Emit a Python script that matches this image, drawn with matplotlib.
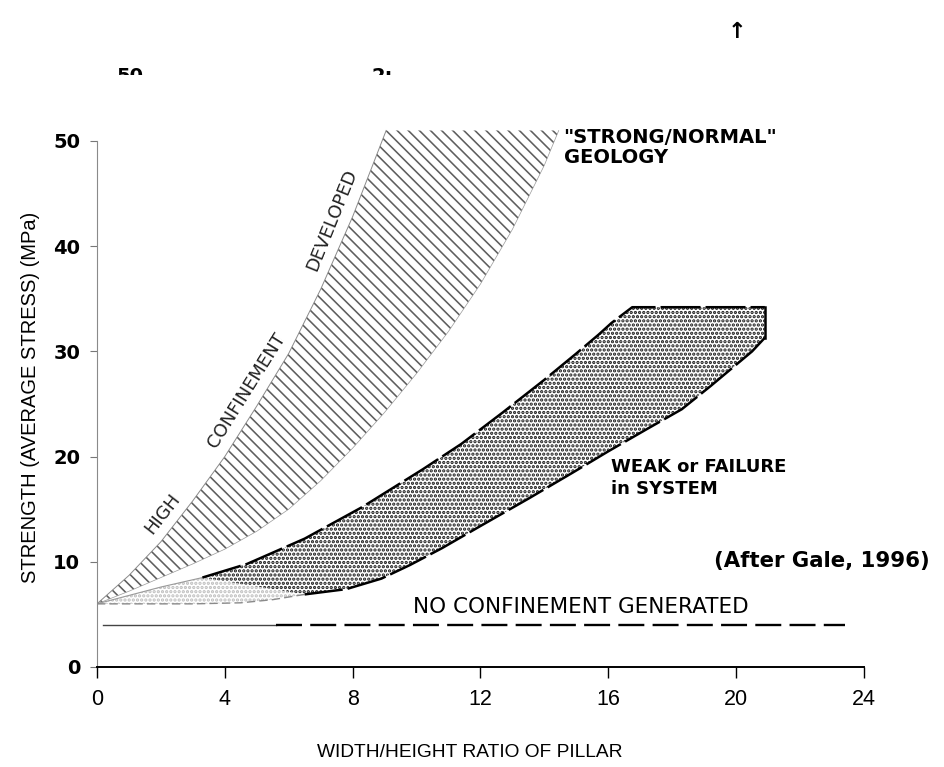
import matplotlib
matplotlib.use('Agg')
import matplotlib.pyplot as plt
from matplotlib.transforms import Bbox, TransformedBbox

# ---------------- data ----------------
x_ticks = [0, 4, 8, 12, 16, 20, 24]
y_ticks = [0, 10, 20, 30, 40, 50]

# "strong / normal" geology band (hatched)
strong_upper_x = [0, 1, 2, 3, 4, 5, 6, 7, 8, 9.05]
strong_upper_y = [6, 8.7, 11.9, 15.8, 20.0, 24.8, 29.8, 35.9, 42.8, 51.0]
strong_lower_x = [0, 1, 2, 3, 4, 5, 6, 7, 8, 9, 10, 11, 12, 13, 14, 14.45]
strong_lower_y = [6, 7.2, 8.5, 9.8, 11.2, 12.9, 15.0, 17.7, 20.8, 24.2, 27.9, 31.9, 36.4, 41.6, 47.7, 51.0]

# "weak or failure in system" band (stippled)
weak_upper_x = [3.3, 4.7, 6.5, 8.3, 10.2, 11.4, 12.7, 14.0, 15.0, 15.7, 16.1, 16.75, 20.9]
weak_upper_y = [8.5, 9.8, 12.2, 15.2, 18.8, 21.2, 24.2, 27.3, 29.8, 31.6, 32.7, 34.2, 34.2]
weak_lower_x = [20.9, 20.9, 20.5, 19.2, 18.3, 17.2, 16.0, 14.9, 13.5, 12.0, 10.8, 9.8, 8.9, 7.8, 6.5]
weak_lower_y = [34.2, 31.3, 30.0, 26.7, 24.5, 22.6, 20.5, 18.5, 16.0, 13.4, 11.3, 9.7, 8.4, 7.4, 6.9]
weak_light_top_x = [0, 1.0, 2.0, 3.3]
weak_light_top_y = [6, 6.8, 7.6, 8.5]
weak_toe_x = [6.5, 5.5, 4.5, 3.0, 0.0]
weak_toe_y = [6.9, 6.4, 6.1, 6.0, 6.0]

# "no confinement generated" line
nc_level = 4.0
nc_x_light = [0.2, 5.6]
nc_x_dark = [5.6, 23.4]


def set_hatch_lw(artists, lw):
    for a in artists:
        if hasattr(a, 'set_hatch_linewidth'):
            a.set_hatch_linewidth(lw)


# ---------------- figure ----------------
fig = plt.figure(figsize=(9.45, 7.67), dpi=100)
ax = fig.add_axes([0.1026, 0.1304, 0.8116, 0.7036])
ax.set_xlim(0, 24)
ax.set_ylim(0, 51.3)

# strong band
plt.rcParams['hatch.linewidth'] = 1.15
p = ax.fill(strong_upper_x + strong_lower_x[::-1], strong_upper_y + strong_lower_y[::-1],
            facecolor='white', edgecolor='#5e5e5e', hatch='\\\\\\', linewidth=0, zorder=2)
set_hatch_lw(p, 1.15)
ax.plot(strong_upper_x, strong_upper_y, color='#8a8a8a', lw=0.7, zorder=3)
ax.plot(strong_lower_x, strong_lower_y, color='#9a9a9a', lw=0.5, zorder=3)

# weak band: light toe and dark body
plt.rcParams['hatch.linewidth'] = 1.6
p = ax.fill(weak_light_top_x + weak_toe_x, weak_light_top_y + weak_toe_y,
            facecolor='white', edgecolor='#bdbdbd', hatch='....', linewidth=0, zorder=2)
set_hatch_lw(p, 1.6)
p = ax.fill(weak_upper_x + weak_lower_x, weak_upper_y + weak_lower_y,
            facecolor='white', edgecolor='#1a1a1a', hatch='....', linewidth=0, zorder=2)
set_hatch_lw(p, 1.6)
ax.plot(weak_light_top_x, weak_light_top_y, color='#9a9a9a', lw=0.8, zorder=3)
ax.plot(weak_toe_x, weak_toe_y, color='#8a8a8a', lw=1.0, ls=(0, (6, 3)), zorder=3)
dash_ls = (0, (16, 2))
ax.plot(weak_upper_x, weak_upper_y, color='black', lw=1.8, ls=dash_ls, zorder=4)
ax.plot(weak_lower_x[:2], weak_lower_y[:2], color='black', lw=1.8, zorder=4)
ax.plot(weak_lower_x[1:], weak_lower_y[1:], color='black', lw=1.8, ls=dash_ls, zorder=4)

# no confinement line
ax.plot(nc_x_light, [nc_level, nc_level], color='#444444', lw=1.0, zorder=4)
ax.plot(nc_x_dark, [nc_level, nc_level], color='black', lw=1.7, ls=(0, (11, 3.5)), zorder=4)

# axes styling
for s in ['top', 'right']:
    ax.spines[s].set_visible(False)
ax.spines['left'].set_color('#8a8a8a')
ax.spines['left'].set_linewidth(0.8)
ax.spines['left'].set_bounds(0, 50)
ax.spines['bottom'].set_color('black')
ax.spines['bottom'].set_linewidth(1.4)
ax.set_xticks(x_ticks)
ax.set_yticks(y_ticks)
ax.set_xticklabels([str(v) for v in x_ticks], fontsize=15.5, family='Liberation Sans')
ax.set_yticklabels([str(v) for v in y_ticks], fontsize=14, fontweight='bold',
                   family='DejaVu Sans')
ax.tick_params(axis='x', direction='out', length=8, width=1.0, color='black', pad=8)
ax.tick_params(axis='y', direction='out', length=5, width=0.8, color='#777777', pad=7)

ax.set_xlabel('WIDTH/HEIGHT RATIO OF PILLAR', fontsize=13.8, family='Liberation Sans')
ax.set_ylabel('STRENGTH (AVERAGE STRESS) (MPa)', fontsize=14.5, family='Liberation Sans')
ax.xaxis.set_label_coords(0.486, -0.143)
ax.yaxis.set_label_coords(-0.074, 0.5)

# annotations
rot_kw = dict(ha='center', va='center', rotation_mode='anchor', fontsize=13,
              family='DejaVu Sans', color='#222222', zorder=5)
ax.text(2.05, 14.6, 'HIGH', rotation=52, **rot_kw)
ax.text(4.7, 26.3, 'CONFINEMENT', rotation=58, **rot_kw)
ax.text(7.35, 42.5, 'DEVELOPED', rotation=68, **rot_kw)

ax.text(14.6, 49.4, '"STRONG/NORMAL"\nGEOLOGY', ha='left', va='center', fontsize=14,
        fontweight='bold', family='DejaVu Sans', linespacing=1.05)
ax.text(16.1, 18.0, 'WEAK or FAILURE\nin SYSTEM', ha='left', va='center', fontsize=13,
        fontweight='bold', family='DejaVu Sans', linespacing=1.3)
ax.text(19.3, 10.1, '(After Gale, 1996)', ha='left', va='center', fontsize=15.3,
        fontweight='bold', family='DejaVu Sans')
ax.text(9.9, 5.7, 'NO CONFINEMENT GENERATED', ha='left', va='center', fontsize=15.5,
        family='DejaVu Sans')

# scan remnants at the top of the page
clip = TransformedBbox(Bbox([[0, 1 - 75 / 767], [1, 1]]), fig.transFigure)
for fx, s in [(116 / 945, '50'), (372 / 945, '2:')]:
    t = fig.text(fx, 1 - 76 / 767, s, fontsize=14, fontweight='bold', va='center')
    t.set_clip_box(clip)
    t.set_clip_on(True)
fig.text(737 / 945, 1 - 32 / 767, '↑', fontsize=16, fontweight='bold', ha='center', va='center')

fig.savefig('out.png', dpi=100)
